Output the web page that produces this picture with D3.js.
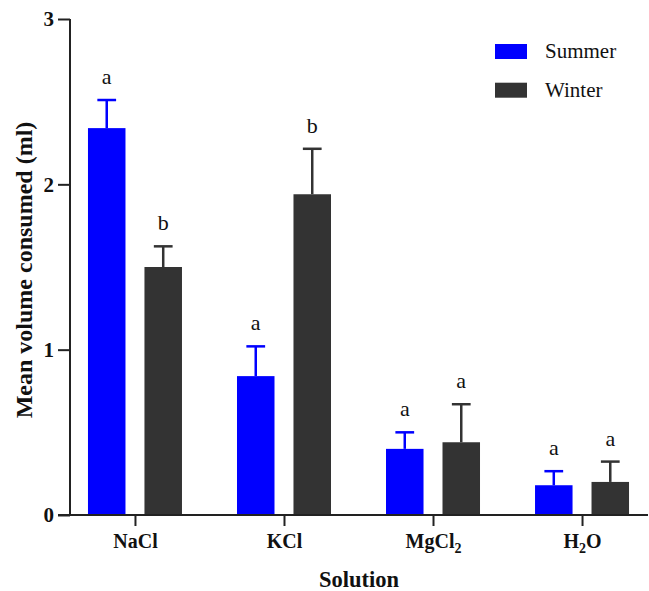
<!DOCTYPE html>
<html><head><meta charset="utf-8">
<script src="https://cdn.jsdelivr.net/npm/d3@7"></script>
<style>body{margin:0;background:#fff}svg{display:block}</style>
</head><body>
<svg id="c" width="649" height="591"></svg>
<script>
const categories = ["NaCl","KCl","MgCl2","H2O"];
const series = ["Summer","Winter"];
const summerMean = [2.34, 0.84, 0.40, 0.18];
const summerErr  = [0.17, 0.18, 0.10, 0.085];
const winterMean = [1.50, 1.94, 0.44, 0.20];
const winterErr  = [0.125, 0.275, 0.23, 0.123];
const summerLetters = ["a","a","a","a"];
const winterLetters = ["b","b","a","a"];
const yTicks = [0,1,2,3];

const colors = {Summer:"#0000ff", Winter:"#333333"};
const font = "'Liberation Serif','Times New Roman',serif";
const svg = d3.select("#c");
const x = d3.scalePoint().domain(categories).range([70,647]).padding(0.436);
const y = d3.scaleLinear().domain([0,3]).range([515,19]);
const xs = d3.scaleBand().domain(series).range([-47,47]).paddingInner(0.336).paddingOuter(0);

const data = [];
categories.forEach((c,i)=>{
  data.push({c, s:"Summer", v:summerMean[i], e:summerErr[i], l:summerLetters[i]});
  data.push({c, s:"Winter", v:winterMean[i], e:winterErr[i], l:winterLetters[i]});
});

const g = svg.append("g");
const bw = xs.bandwidth();
g.selectAll("rect.bar").data(data).join("rect")
  .attr("x", d=>x(d.c)+xs(d.s)).attr("width", bw)
  .attr("y", d=>y(d.v)).attr("height", d=>y(0)-y(d.v))
  .attr("fill", d=>colors[d.s]);
// error bars
g.selectAll("line.eb").data(data).join("line")
  .attr("x1", d=>x(d.c)+xs(d.s)+bw/2).attr("x2", d=>x(d.c)+xs(d.s)+bw/2)
  .attr("y1", d=>y(d.v)).attr("y2", d=>y(d.v+d.e))
  .attr("stroke", d=>colors[d.s]).attr("stroke-width",2.5);
g.selectAll("line.cap").data(data).join("line")
  .attr("x1", d=>x(d.c)+xs(d.s)+bw/4).attr("x2", d=>x(d.c)+xs(d.s)+3*bw/4)
  .attr("y1", d=>y(d.v+d.e)).attr("y2", d=>y(d.v+d.e))
  .attr("stroke", d=>colors[d.s]).attr("stroke-width",2.5);
g.selectAll("text.lt").data(data).join("text")
  .attr("x", d=>x(d.c)+xs(d.s)+bw/2).attr("y", d=>y(d.v+d.e)-16)
  .attr("text-anchor","middle").attr("font-family",font).attr("font-size",22)
  .attr("fill","#111").text(d=>d.l);

// Y axis
const ya = svg.append("g").attr("transform","translate(70,0)")
  .call(d3.axisLeft(y).tickValues(yTicks).tickFormat(d3.format("d")).tickSize(12).tickPadding(4));
ya.select(".domain").attr("stroke","#222").attr("stroke-width",2).attr("d","M0,19V515");
ya.selectAll(".tick line").attr("stroke","#222").attr("stroke-width",2);
ya.selectAll(".tick text").attr("font-family",font).attr("font-size",21).attr("font-weight","bold").attr("fill","#111");

// X axis
const xa = svg.append("g").attr("transform","translate(0,515)")
  .call(d3.axisBottom(x).tickSize(11).tickPadding(9).tickFormat(()=>""));
xa.select(".domain").attr("stroke","#222").attr("stroke-width",2).attr("d","M58,0H648");
xa.selectAll(".tick line").attr("stroke","#222").attr("stroke-width",2);
const labelParts = {NaCl:[["NaCl",false]], KCl:[["KCl",false]], MgCl2:[["MgCl",false],["2",true]], H2O:[["H",false],["2",true],["O",false]]};
xa.selectAll(".tick text").each(function(d){
  const t = d3.select(this).attr("font-family",font).attr("font-size",20).attr("font-weight","bold").attr("fill","#111").attr("dy",null).attr("y",33);
  labelParts[d].forEach(([s,sub])=>{
    const ts = t.append("tspan").text(s);
    if(sub) ts.attr("font-size",14).attr("dy",5);
    else if(t.selectAll("tspan").size()>1) ts.attr("dy",-5);
  });
});

// titles
svg.append("text").attr("x",359).attr("y",587).attr("text-anchor","middle")
  .attr("font-family",font).attr("font-size",22.5).attr("font-weight","bold").attr("fill","#111").text("Solution");
svg.append("text").attr("transform","translate(32,270) rotate(-90)").attr("text-anchor","middle")
  .attr("font-family",font).attr("font-size",24).attr("font-weight","bold").attr("fill","#111").text("Mean volume consumed (ml)");

// legend
const lg = svg.append("g").selectAll("g").data(series).join("g")
  .attr("transform",(d,i)=>`translate(495,${44+i*38.7})`);
lg.append("rect").attr("width",32).attr("height",15).attr("fill",d=>colors[d]);
lg.append("text").attr("x",50).attr("y",14).attr("font-family",font).attr("font-size",21).attr("fill","#111").text(d=>d);
</script>
</body></html>
